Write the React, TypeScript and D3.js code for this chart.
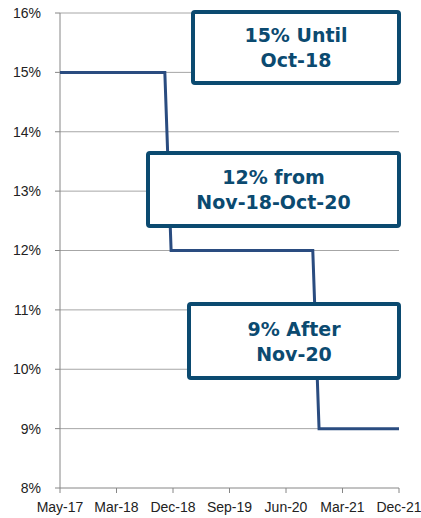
import React from 'react';
import * as d3 from 'd3';

const width = 421;
const height = 518;

// change points of the rate (monthly data, flat between them)
const dates = ['2017-05', '2018-10', '2018-11', '2020-10', '2020-11', '2021-12'];
const rates = [15, 15, 12, 12, 9, 9];

const xLabels = ['May-17', 'Mar-18', 'Dec-18', 'Sep-19', 'Jun-20', 'Mar-21', 'Dec-21'];
const yTicks = [8, 9, 10, 11, 12, 13, 14, 15, 16];

const notes = [
  { lines: ['15% Until', 'Oct-18'], box: [193, 12, 206, 71] },
  { lines: ['12% from', 'Nov-18-Oct-20'], box: [148, 153, 251, 73] },
  { lines: ['9% After', 'Nov-20'], box: [189, 304, 210, 74] },
];

const parse = d3.timeParse('%Y-%m');
const left = 60;
const right = 399;
const top = 13;
const bottom = 488;

const App = () => {
  const x = d3
    .scaleTime()
    .domain([parse(dates[0]) as Date, parse(dates[dates.length - 1]) as Date])
    .range([left, right]);
  const xTick = d3.scalePoint<string>().domain(xLabels).range([left, right]);
  const y = d3.scaleLinear().domain([8, 16]).range([bottom, top]);

  const pts = dates.map((d, i) => [x(parse(d) as Date), y(rates[i])] as [number, number]);
  const path = d3.line()(pts) || '';

  const noteColor = '#0b4a70';

  return (
    <svg
      width={width}
      height={height}
      style={{ position: 'absolute', left: 0, top: 0, background: '#fff' }}
    >
      {yTicks.map((t) => (
        <g key={t}>
          {t > 8 && (
            <line x1={left} x2={right} y1={y(t)} y2={y(t)} stroke="#a6a6a6" strokeWidth={1} />
          )}
          <line x1={left - 5} x2={left} y1={y(t)} y2={y(t)} stroke="#868686" />
          <text
            x={left - 19}
            y={y(t)}
            dy="0.35em"
            textAnchor="end"
            fontSize={14}
            fontFamily="Liberation Sans, Arial, sans-serif"
            fill="#222"
          >
            {t}%
          </text>
        </g>
      ))}
      <line x1={left} x2={left} y1={top} y2={bottom} stroke="#868686" />
      <line x1={left} x2={right} y1={bottom} y2={bottom} stroke="#868686" />
      {xLabels.map((l) => (
        <g key={l}>
          <line x1={xTick(l)} x2={xTick(l)} y1={bottom} y2={bottom + 5} stroke="#868686" />
          <text
            x={xTick(l)}
            y={bottom + 24}
            textAnchor="middle"
            fontSize={14}
            fontFamily="Liberation Sans, Arial, sans-serif"
            fill="#222"
          >
            {l}
          </text>
        </g>
      ))}
      <path d={path} fill="none" stroke="#2a4c80" strokeWidth={3} />
      {notes.map((n, i) => {
        const [bx, by, bw, bh] = n.box;
        return (
          <g key={i}>
            <rect
              x={bx}
              y={by}
              width={bw}
              height={bh}
              rx={2}
              fill="#fff"
              stroke={noteColor}
              strokeWidth={4}
            />
            {n.lines.map((t, j) => (
              <text
                key={j}
                x={bx + bw / 2}
                y={by + bh / 2 + (j === 0 ? -12 : 13)}
                dy="0.35em"
                textAnchor="middle"
                fontSize={19}
                fontWeight="bold"
                fontFamily="DejaVu Sans, Verdana, sans-serif"
                fill={noteColor}
              >
                {t}
              </text>
            ))}
          </g>
        );
      })}
    </svg>
  );
};

export default App;
